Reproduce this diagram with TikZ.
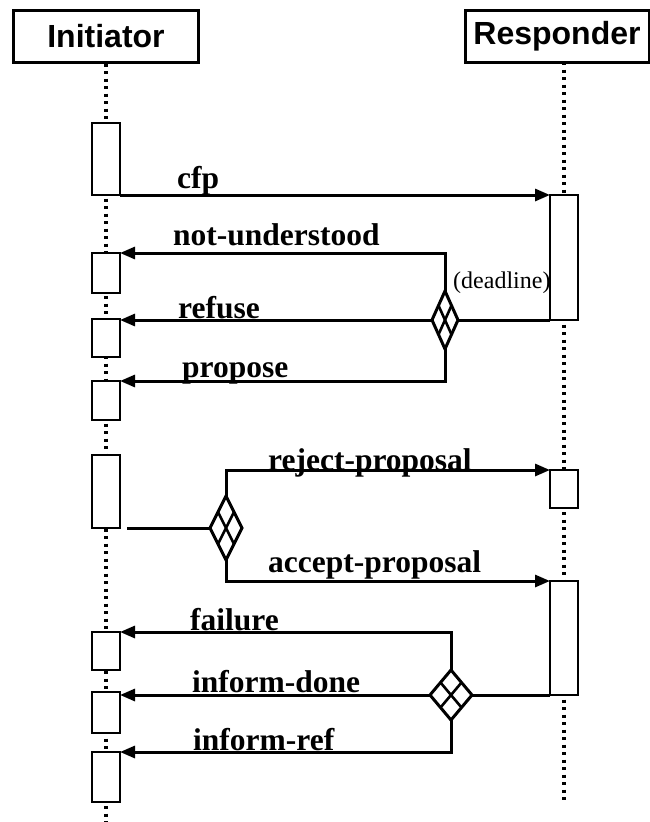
\documentclass[tikz,border=0pt]{standalone}
\usepackage{fontspec}
\setmainfont{Liberation Serif}
\setsansfont{Liberation Sans}
\usetikzlibrary{arrows.meta,shapes.geometric}

\begin{document}
\begin{tikzpicture}[x=1pt, y=-1pt,
  agent/.style={draw, line width=3pt, minimum height=52pt, inner sep=0pt,
    font=\sffamily\bfseries\fontsize{32}{32}\selectfont},
  act/.style={draw, fill=white, line width=2.8pt, minimum width=28pt, inner sep=0pt, outer sep=0pt},
  choice/.style={draw, diamond, fill=white, line width=3pt, inner sep=0pt, outer sep=0pt},
  life/.style={line width=3.2pt, dash pattern=on 3pt off 4.5pt},
  wire/.style={line width=3pt},
  msg/.style={wire, -{Triangle[length=15pt,width=12pt]}},
  lbl/.style={font=\bfseries\fontsize{31.5}{31.5}\selectfont, inner sep=0pt, anchor=base west}]

\useasboundingbox (0,0) rectangle (649,822);

% agents
\node[agent, minimum width=185pt] (ini) at (106,36) {Initiator};
\node[agent, minimum width=184pt] (res) at (557,36) {Responder};

% lifelines
\coordinate (iend) at (106,822);
\coordinate (rtop) at (564,62);
\coordinate (rend) at (564,803);
\draw[life] (ini.south) -- (iend);
\draw[life] (rtop) -- (rend);

% activation bars of the initiator
\foreach \n/\y/\h in {i1/159/72, i2/273/40, i3/338/38, i4/400.5/39,
                      i5/491.5/73, i6/651/38, i7/712.5/41, i8/777/50}
  \node[act, minimum height=\h pt] (\n) at (106,\y) {};

% activation bars of the responder
\foreach \n/\y/\h in {r1/257.5/125, r2/489/38, r3/638/114}
  \node[act, minimum height=\h pt] (\n) at (564,\y) {};

% decision diamonds
\node[choice, minimum width=26pt, minimum height=58pt] (d1) at (445,320) {};
\node[choice, minimum width=32pt, minimum height=64pt] (d2) at (226,528) {};
\node[choice, minimum width=42pt, minimum height=50pt] (d3) at (451,695) {};
\foreach \d in {d1,d2,d3}
  \draw[line width=2.6pt] (\d.north west) -- (\d.south east) (\d.north east) -- (\d.south west);

% call for proposals
\draw[msg] (i1.south east) -- (i1.south east -| r1.west);

% first answers
\draw[wire] (r1.south west) -- (d1.east);
\draw[msg] (d1.north) |- (i2.north east);
\draw[msg] (d1.west) -- (d1.west -| i3.east);
\draw[msg] (d1.south) |- (i4.north east);

% reject or accept
\draw[wire, shorten <=7pt] (i5.south east) -- (d2.west);
\draw[msg] (d2.north) |- (r2.north west);
\draw[msg] (d2.south) |- (r3.north west);

% results
\draw[wire] (r3.south west) -- (d3.east);
\draw[msg] (d3.north) |- (i6.north east);
\draw[msg] (d3.west) -- (d3.west -| i7.east);
\draw[msg] (d3.south) |- (i8.north east);

% message labels
\node[lbl] (tcfp) at (177,188) {cfp};
\node[lbl] (tnot) at (173,245) {not-understood};
\node[lbl] (tref) at (178,318) {refuse};
\node[lbl] (tprop) at (182,377) {propose};
\node[lbl] (trej) at (268,470) {reject-proposal};
\node[lbl] (tacc) at (268,572) {accept-proposal};
\node[lbl] (tfail) at (190,630) {failure};
\node[lbl] (tdone) at (192,692) {inform-done};
\node[lbl] (tiref) at (193,750) {inform-ref};
\node[inner sep=0pt, anchor=base west, font=\fontsize{24}{24}\selectfont] (tdl) at (453,288) {(deadline)};

\end{tikzpicture}
\end{document}
